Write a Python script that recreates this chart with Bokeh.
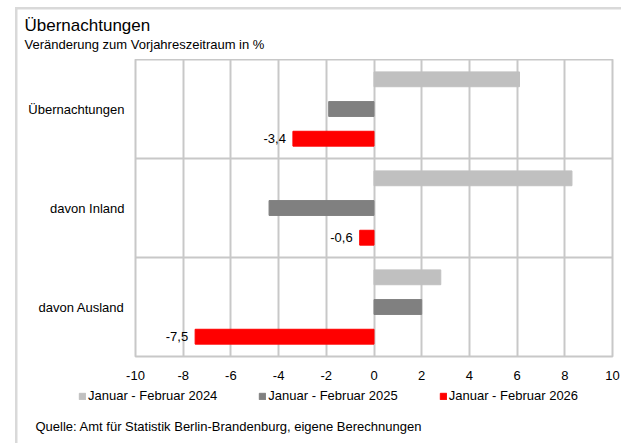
from bokeh.plotting import figure
from bokeh.layouts import column
from bokeh.models import (FactorRange, ColumnDataSource, Span, Legend,
                          LegendItem, FixedTicker, Label)
from bokeh.transform import dodge
from bokeh.core.properties import value
from bokeh.embed import file_html
from bokeh.resources import INLINE

# ---------------- data ----------------
categories = ["Übernachtungen", "davon Inland", "davon Ausland"]
series_names = ["Januar - Februar 2024", "Januar - Februar 2025", "Januar - Februar 2026"]
values_2024 = [6.1, 8.3, 2.8]
values_2025 = [-1.9, -4.4, 2.0]
values_2026 = [-3.4, -0.6, -7.5]
labels_2026 = ["-3,4", "-0,6", "-7,5"]
x_ticks = [-10, -8, -6, -4, -2, 0, 2, 4, 6, 8, 10]
title_text = "Übernachtungen"
subtitle_text = "Veränderung  zum Vorjahreszeitraum   in %"
source_text = "Quelle: Amt für Statistik Berlin-Brandenburg,  eigene Berechnungen"

colors = ["#c0c0c0", "#808080", "#ff0000"]
FONT = "Liberation Sans"
GRID = "#c8c8c8"
W = 621


def no_frame_align(f):
    if "frame_align" in f.properties():
        f.frame_align = False
    return f


def blank_panel(height):
    f = figure(width=W, height=height, x_range=(0, 1), y_range=(0, 1),
               x_axis_type=None, y_axis_type=None, min_border=0,
               output_backend="svg", toolbar_location=None)
    f.outline_line_color = None
    f.background_fill_color = None
    f.border_fill_color = None
    return no_frame_align(f)


# ---------------- header ----------------
header = blank_panel(59)
header.add_layout(Label(x=24, y=34, x_units="screen", y_units="screen", text=title_text,
                        text_font=FONT, text_font_size="17px", text_color="black",
                        text_baseline="middle"))
header.add_layout(Label(x=24, y=15.5, x_units="screen", y_units="screen", text=subtitle_text,
                        text_font=FONT, text_font_size="13px", text_color="black",
                        text_baseline="middle"))

# ---------------- main chart ----------------
src = ColumnDataSource(dict(cat=categories, v2024=values_2024, v2025=values_2025,
                            v2026=values_2026, lbl=labels_2026))

p = figure(width=W, height=327,
           y_range=FactorRange(factors=list(reversed(categories))),
           x_range=(-10, 10),
           output_backend="svg", toolbar_location=None,
           min_border_left=135, min_border_right=9,
           min_border_top=0, min_border_bottom=30)
no_frame_align(p)
p.outline_line_color = GRID
p.outline_line_width = 2
p.background_fill_color = "white"
p.border_fill_color = None

p.xgrid.ticker = FixedTicker(ticks=x_ticks)
p.xgrid.grid_line_color = GRID
p.xgrid.grid_line_width = 2
p.ygrid.grid_line_color = None
for loc in (1, 2):
    p.add_layout(Span(location=loc, dimension="width", line_color=GRID, line_width=2))

p.xaxis.ticker = FixedTicker(ticks=x_ticks)
p.xaxis.major_label_overrides = {t: str(t) for t in x_ticks}
p.xaxis.axis_line_color = None
p.xaxis.major_tick_line_color = None
p.xaxis.minor_tick_line_color = None
p.xaxis.major_tick_out = 0
p.xaxis.major_tick_in = 0
p.xaxis.major_label_text_font = FONT
p.xaxis.major_label_text_font_size = "13px"
p.xaxis.major_label_text_color = "black"
p.xaxis.major_label_standoff = 14

p.yaxis.axis_line_color = None
p.yaxis.major_tick_line_color = None
p.yaxis.minor_tick_line_color = None
p.yaxis.major_tick_out = 0
p.yaxis.major_tick_in = 0
p.yaxis.major_label_text_font = FONT
p.yaxis.major_label_text_font_size = "13px"
p.yaxis.major_label_text_color = "black"
p.yaxis.major_label_standoff = 11

offsets = [0.3, 0.0, -0.3]
fields = ["v2024", "v2025", "v2026"]
for f, off, c in zip(fields, offsets, colors):
    p.hbar(y=dodge("cat", off, range=p.y_range), left=0, right=f, height=0.15,
           source=src, fill_color=c, line_color=c)

p.text(x="v2026", y=dodge("cat", -0.3, range=p.y_range), text="lbl", source=src,
       x_offset=-7, text_align="right", text_baseline="middle",
       text_font=value(FONT), text_font_size="13px", text_color="black")

# ---------------- footer: legend + source ----------------
footer = blank_panel(57)
# legend proxies: same series, drawn outside the footer's visible range
proxies = [footer.hbar(y=-5, left=0, right=f, height=0.1, source=src,
                       fill_color=c, line_color=c)
           for f, c in zip(fields, colors)]
legend = Legend(items=[LegendItem(label=n, renderers=[r]) for n, r in zip(series_names, proxies)],
                orientation="horizontal", location=(78, 40),
                glyph_width=8, glyph_height=8, label_standoff=2, spacing=41,
                padding=0, margin=0, border_line_alpha=0, background_fill_alpha=0,
                label_text_font=FONT, label_text_font_size="13px",
                label_height=9, label_text_color="black")
footer.add_layout(legend)
footer.add_layout(Label(x=35, y=16.8, x_units="screen", y_units="screen", text=source_text,
                        text_font=FONT, text_font_size="13px", text_color="black",
                        text_baseline="middle"))

layout = column(header, p, footer, spacing=0)
layout.styles = {"background": "linear-gradient(#d9d9d9,#d9d9d9) 15px 7px / 2.5px 100% no-repeat, "
                               "linear-gradient(#d9d9d9,#d9d9d9) 15px 7px / 100% 2.5px no-repeat, #ffffff"}

open("out.html", "w").write(file_html(layout, INLINE))
